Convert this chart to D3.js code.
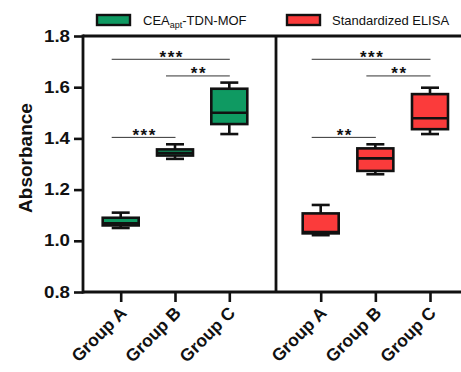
<!DOCTYPE html>
<html><head><meta charset="utf-8">
<script src="https://cdn.jsdelivr.net/npm/d3@7"></script>
<style>body{margin:0;background:#fff} text{font-family:"Liberation Sans",Arial,sans-serif}</style>
</head><body><svg id="c" width="461" height="372"></svg>
<script>
// ---- data ----
const groups = ["Group A", "Group B", "Group C"];
const seriesNames = ["CEA|apt|-TDN-MOF", "Standardized ELISA"];
const seriesColors = ["#0f9a62", "#fb3b3b"];
// box stats: [min, q1, median, q3, max]
const mofStats = [
  [1.050, 1.060, 1.068, 1.090, 1.110],
  [1.320, 1.333, 1.343, 1.357, 1.377],
  [1.417, 1.456, 1.500, 1.594, 1.618]
];
const elisaStats = [
  [1.022, 1.029, 1.034, 1.107, 1.140],
  [1.260, 1.273, 1.322, 1.361, 1.377],
  [1.417, 1.436, 1.479, 1.573, 1.598]
];
const yTicks = [0.8, 1.0, 1.2, 1.4, 1.6, 1.8];
const mofSig = [["Group A", "Group C", "***"], ["Group B", "Group C", "**"], ["Group A", "Group B", "***"]];
const elisaSig = [["Group A", "Group C", "***"], ["Group B", "Group C", "**"], ["Group A", "Group B", "**"]];
const sigLevels = [1.709, 1.644, 1.404];

// ---- layout ----
const svg = d3.select("#c");
const yTop = 36, yBot = 292, xLeft = 83, xDiv = 276, xRight = 470;
const y = d3.scaleLinear().domain([0.8, 1.8]).range([yBot, yTop]);
const panels = [
  {stats: mofStats, sig: mofSig, color: seriesColors[0], x: d3.scalePoint().domain(groups).range([120.7, 229.3])},
  {stats: elisaStats, sig: elisaSig, color: seriesColors[1], x: d3.scalePoint().domain(groups).range([320.7, 430])}
];
const LW = 2.6;

// frame
const frame = svg.append("g").attr("stroke", "#111").attr("stroke-width", 2.8).attr("fill", "none");
frame.append("line").attr("x1", xLeft).attr("x2", xRight).attr("y1", yTop).attr("y2", yTop);
frame.append("line").attr("x1", xLeft).attr("x2", xRight).attr("y1", yBot).attr("y2", yBot);
frame.append("line").attr("x1", xDiv).attr("x2", xDiv).attr("y1", yTop).attr("y2", yBot);

// y axis
const yAxis = svg.append("g").attr("transform", `translate(${xLeft},0)`)
  .call(d3.axisLeft(y).tickValues(yTicks).tickFormat(d3.format(".1f")).tickSize(9).tickPadding(4));
yAxis.select(".domain").attr("stroke", "#111").attr("stroke-width", 2.8).attr("d", `M0,${yTop - 1.4}V${yBot + 1.4}`);
yAxis.selectAll(".tick line").attr("stroke", "#111").attr("stroke-width", 2.6);
yAxis.selectAll(".tick text").attr("font-size", 16).attr("font-weight", "bold").attr("fill", "#111")
  .attr("font-family", '"Liberation Sans",Arial,sans-serif')
  .attr("textLength", 26).attr("lengthAdjust", "spacingAndGlyphs");

svg.append("text").attr("transform", "translate(32,158) rotate(-90)")
  .attr("text-anchor", "middle").attr("font-size", 19).attr("font-weight", "bold").attr("fill", "#111")
  .text("Absorbance");

panels.forEach(p => {
  // x axis
  const xa = svg.append("g").attr("transform", `translate(0,${yBot})`)
    .call(d3.axisBottom(p.x).tickSize(10).tickFormat(""));
  xa.select(".domain").remove();
  xa.selectAll(".tick line").attr("stroke", "#111").attr("stroke-width", 2.6);
  groups.forEach(g => {
    svg.append("text").attr("transform", `translate(${p.x(g) + 7},${yBot + 22}) rotate(-45)`)
      .attr("text-anchor", "end").attr("font-size", 17.5).attr("font-weight", "bold").attr("fill", "#111")
      .text(g);
  });

  // boxes
  const bw = 36, cw = 18;
  p.stats.forEach((s, i) => {
    const cx = p.x(groups[i]);
    const g = svg.append("g").attr("stroke", "#111").attr("stroke-width", LW);
    g.append("line").attr("x1", cx).attr("x2", cx).attr("y1", y(s[0])).attr("y2", y(s[4]));
    g.append("line").attr("x1", cx - cw / 2).attr("x2", cx + cw / 2).attr("y1", y(s[0])).attr("y2", y(s[0]));
    g.append("line").attr("x1", cx - cw / 2).attr("x2", cx + cw / 2).attr("y1", y(s[4])).attr("y2", y(s[4]));
    g.append("rect").attr("x", cx - bw / 2).attr("width", bw).attr("y", y(s[3])).attr("height", y(s[1]) - y(s[3]))
      .attr("fill", p.color);
    g.append("line").attr("x1", cx - bw / 2).attr("x2", cx + bw / 2).attr("y1", y(s[2])).attr("y2", y(s[2]));
  });

  // significance
  p.sig.forEach((d, i) => {
    const yy = y(sigLevels[i]);
    const x1 = p.x(d[0]) - 9, x2 = p.x(d[1]) + 0.5;
    svg.append("line").attr("x1", x1).attr("x2", x2).attr("y1", yy).attr("y2", yy)
      .attr("stroke", "#333").attr("stroke-width", 1);
    svg.append("text").attr("x", (x1 + x2) / 2 + 1).attr("y", yy + 3.5).attr("text-anchor", "middle")
      .attr("font-size", 17).attr("font-weight", "bold").attr("letter-spacing", 1.5).attr("fill", "#111")
      .text(d[2]);
  });
});

// legend
const legendX = [97, 287], legendTextX = [143, 332];
seriesNames.forEach((n, i) => {
  svg.append("rect").attr("x", legendX[i]).attr("y", 15).attr("width", 33).attr("height", 10)
    .attr("fill", seriesColors[i]).attr("stroke", "#111").attr("stroke-width", 2.4);
  const t = svg.append("text").attr("x", legendTextX[i]).attr("y", 25).attr("font-size", 13).attr("fill", "#111");
  const parts = n.split("|");
  parts.forEach((s, k) => {
    if (k % 2 === 1) t.append("tspan").attr("font-size", 9).attr("dy", 3).text(s);
    else t.append("tspan").attr("dy", k ? -3 : 0).text(s);
  });
});
</script></body></html>
